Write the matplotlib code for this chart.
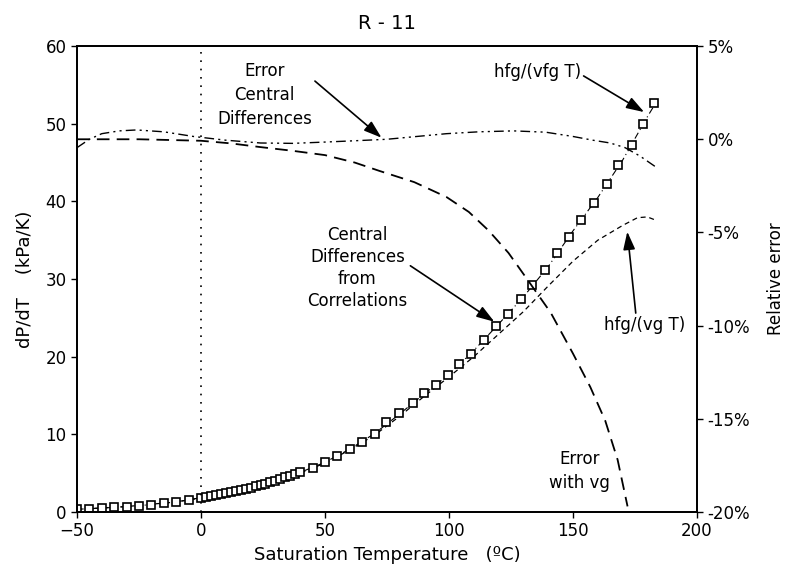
import matplotlib.pyplot as plt

# central differences from correlations (squares), dP/dT in kPa/K
sq_T = [-50, -45, -40, -35, -30, -25, -20, -15, -10, -5,
        0, 2, 4, 6, 8, 10, 12, 14, 16, 18, 20, 22, 24, 26, 28, 30,
        32, 34, 36, 38, 40, 45, 50, 55, 60, 65, 70,
        74.7, 80, 85.4, 90.1, 94.8, 99.5, 104.2, 108.9, 114, 119, 123.9,
        129, 133.6, 138.7, 143.6, 148.3, 153.4, 158.5, 163.6, 168.3,
        173.6, 178.4, 182.7]
sq_dpdt = [0.35, 0.42, 0.5, 0.6, 0.7, 0.82, 0.95, 1.1, 1.3, 1.5,
           1.85, 1.95, 2.05, 2.15, 2.3, 2.4, 2.55, 2.7, 2.85, 3.0, 3.15, 3.3, 3.5, 3.65, 3.85, 4.05,
           4.25, 4.45, 4.65, 4.85, 5.1, 5.7, 6.4, 7.2, 8.1, 9.0, 10.1,
           11.6, 12.7, 14.0, 15.3, 16.35, 17.6, 19.1, 20.4, 22.1, 23.9, 25.5,
           27.4, 29.2, 31.2, 33.3, 35.4, 37.6, 39.8, 42.3, 44.7,
           47.25, 49.95, 52.7]

# hfg/(vfg T)
vfg_T = [-50, -40, -30, -20, -10, 0, 10, 20, 30, 40, 50, 60, 70, 80, 90,
         100, 110, 120, 130, 140, 150, 160, 170, 180, 184]
vfg_dpdt = [0.35, 0.5, 0.7, 0.95, 1.3, 1.85, 2.4, 3.15, 4.05, 5.1, 6.4, 8.1, 10.1, 12.6, 15.2,
            17.7, 20.8, 24.2, 27.7, 31.6, 36.2, 40.5, 45.3, 50.9, 53.0]

# hfg/(vg T)
vg_T = [-50, -30, -10, 0, 10, 20, 30, 40, 50, 60, 70, 80, 90, 100, 110,
        120, 130, 140, 150, 160, 170, 176, 180, 184]
vg_dpdt = [0.35, 0.7, 1.3, 1.8, 2.35, 3.1, 4.0, 5.0, 6.3, 8.0, 9.9, 12.3, 14.9, 17.4, 20.0,
           22.9, 25.8, 29.1, 32.3, 35.0, 36.9, 37.9, 38.0, 37.5]

# relative error of central differences (%)
errcd_T = [-50, -45, -40, -33, -26, -15, -3, 10, 24, 37, 50, 62, 75, 87, 99,
           112, 126, 139, 150, 158, 165, 171, 177, 183]
errcd = [-0.45, 0.0, 0.3, 0.45, 0.5, 0.4, 0.15, -0.05, -0.2, -0.22, -0.15, -0.08, 0.0, 0.15, 0.3,
         0.4, 0.45, 0.38, 0.15, -0.05, -0.2, -0.45, -0.9, -1.45]

# relative error with vg (%)
errvg_T = [-50, -25, 0, 12, 24, 37, 50, 62, 72, 86, 99, 108, 116, 124, 132,
           141, 150, 157, 163, 168, 172]
errvg = [0.0, 0.0, -0.08, -0.22, -0.42, -0.62, -0.85, -1.25, -1.7, -2.3, -3.1, -3.9, -4.9, -6.1, -7.6,
         -9.3, -11.5, -13.3, -15.1, -17.2, -19.7]

err_ticks = [-20, -15, -10, -5, 0, 5]
err_labels = ['-20%', '-15%', '-10%', '-5%', '0%', '5%']

plt.rcParams['font.family'] = 'DejaVu Sans'
fig = plt.figure(figsize=(7.88, 5.69), dpi=100)
ax = fig.add_axes([0.0977, 0.1002, 0.7868, 0.8188])
ax2 = ax.twinx()

ax.plot(vfg_T, vfg_dpdt, color='black', lw=0.8, ls=(0, (6, 3, 1, 3)))
ax.plot(vg_T, vg_dpdt, color='black', lw=0.9, ls=(0, (4, 3)))
ax.plot(sq_T, sq_dpdt, ls='none', marker='s', ms=6, mfc='white', mec='black', mew=1.2)
ax.axvline(0, color='black', ls=(0, (1, 4)), lw=1.2)

ax2.plot(errcd_T, errcd, color='black', lw=1.0, ls=(0, (7, 3, 1.5, 3, 1.5, 3)))
ax2.plot(errvg_T, errvg, color='black', lw=1.3, ls=(0, (7, 4)))

ax.set_xlim(-50, 200)
ax.set_ylim(0, 60)
ax2.set_ylim(-20, 5)
ax.set_xticks([-50, 0, 50, 100, 150, 200])
ax.set_yticks([0, 10, 20, 30, 40, 50, 60])
ax2.set_yticks(err_ticks)
ax2.set_yticklabels(err_labels)

for a in (ax, ax2):
    a.tick_params(labelsize=12, width=1, length=4, direction='out')
    for s in a.spines.values():
        s.set_linewidth(1.3)

ax.set_xlabel('Saturation Temperature   (ºC)', fontsize=13, labelpad=4)
ax.set_ylabel('dP/dT    (kPa/K)', fontsize=13, labelpad=8)
ax2.set_ylabel('Relative error', fontsize=12, labelpad=12)
ax.set_title('R - 11', fontsize=14, pad=12)

arrow = dict(arrowstyle='-|>,head_length=0.9,head_width=0.3', color='black', lw=1.2,
             shrinkA=0, shrinkB=0)
ax.annotate('Error\nCentral\nDifferences', xy=(72.8, 48.2), xytext=(25.7, 53.7),
            ha='center', va='center', fontsize=12, linespacing=1.4,
            arrowprops=dict(arrow, relpos=(1.0, 0.75)))
ax.annotate('hfg/(vfg T)', xy=(178.7, 51.5), xytext=(135.6, 56.6),
            ha='center', va='center', fontsize=12,
            arrowprops=dict(arrow, relpos=(1.0, 0.4)))
ax.annotate('Central\nDifferences\nfrom\nCorrelations', xy=(118.3, 24.5), xytext=(63.1, 31.4),
            ha='center', va='center', fontsize=12, linespacing=1.3,
            arrowprops=dict(arrow, relpos=(1.0, 0.55)))
ax.annotate('hfg/(vg T)', xy=(171.9, 36.1), xytext=(178.7, 24.1),
            ha='center', va='center', fontsize=12,
            arrowprops=dict(arrow, relpos=(0.4, 1.0)))
ax.text(152.5, 5.3, 'Error\nwith vg', ha='center', va='center', fontsize=12, linespacing=1.4)

fig.savefig('out.png', dpi=100)
